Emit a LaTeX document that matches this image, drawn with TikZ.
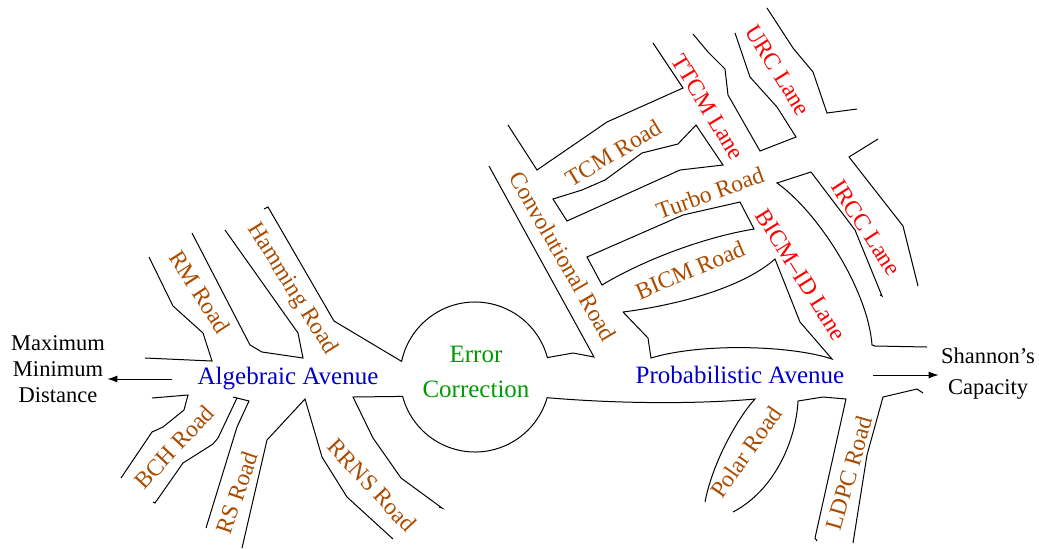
\documentclass[tikz,border=0pt]{standalone}
\usepackage{fontspec}
\setmainfont{Liberation Serif}
\usetikzlibrary{arrows.meta}
\definecolor{roadbrown}{RGB}{170,75,0}
\definecolor{avenueblue}{RGB}{0,0,200}
\definecolor{hubgreen}{RGB}{0,155,0}

\begin{document}
\begin{tikzpicture}[x=0.5pt, y=-0.5pt, line width=0.5pt,
    road/.style={text=roadbrown, font=\fontsize{11.8}{14}\selectfont, inner sep=0pt},
    lane/.style={text=red, font=\fontsize{11.8}{14}\selectfont, inner sep=0pt},
    avenue/.style={text=avenueblue, font=\fontsize{12.5}{15}\selectfont, inner sep=1pt},
    goal/.style={align=center, inner sep=1pt},
    pointer/.style={-{Latex[length=5pt, width=3.5pt]}}]

    \useasboundingbox (0,0) rectangle (1039,548);

% algebraic avenue, upper side
    \draw (145,358) -- (212,361) -- (203,333) -- (173,306) -- (149,257);
    \draw (192,233) -- (250,345) -- (262,352) -- (303,358) -- (298,333) -- (225,230);
    \draw (264,209) -- (268,207) -- (334,321) -- (401.6,361.4)
        arc[start angle=168, end angle=15, radius=37.5pt]
        -- (573,353) -- (594,357) -- (489,166);

% algebraic avenue, lower side
    \draw (152,398) -- (188,395) -- (184,410) -- (163,427) -- (152,432) -- (121,478);
    \draw (153,502) -- (155,503) -- (183,463) -- (213,444) -- (218,438) -- (237,398);
    \draw (233,397) -- (249,401) -- (237,427) -- (206,528);
    \draw (242,548) -- (267,440) -- (305,399) -- (322,457) -- (347,497) -- (393,539);
    \draw (439,507) -- (442,508) -- (401,478) -- (373,438) -- (353,397) -- (402.6,396.4)
        arc[start angle=195, end angle=344, radius=37.5pt]
        .. controls (620,404) and (700,404) .. (755,399)
        .. controls (740,415) and (713,460) .. (705,502);

% probabilistic avenue, upper side
    \draw (508,125) -- (537,170) -- (607,122) -- (683,88) -- (653,43);
    \draw (553,199) -- (582,190) -- (605,180) -- (642,153) -- (678,144) -- (696,125)
        -- (723,165) -- (680,170) -- (567,221) -- cycle;
    \draw (587,257) -- (683,215) -- (740,202) -- (754,229)
        .. controls (700,238) and (640,262) .. (602,285) -- cycle;
    \draw (623,312) -- (648,338) -- (651,358)
        .. controls (700,343) and (790,345) .. (832,359)
        -- (800,322) -- (775,259)
        .. controls (740,290) and (670,306) .. (623,312);

% lanes going up
    \draw (693,34) -- (708,52) -- (725,69) -- (728,95) -- (760,151) -- (796,137)
        -- (777,107) -- (750,77) -- (735,33);
    \draw (767,8) -- (793,48) -- (813,72) -- (827,113) -- (857,109);

% lanes going down
    \draw (927,347) -- (875,346) -- (872,345)
        .. controls (868,290) and (818,212) .. (777,183)
        -- (811,172) -- (855,230) -- (882,296) -- (880,295);
    \draw (878,139) -- (849,157) -- (903,226) -- (918,286);

% probabilistic avenue, lower side
    \draw (733,512) .. controls (775,490) and (796,440) .. (798,401)
        -- (823,397) -- (846,399) -- (815,538) -- (817,541);
    \draw (853,543) -- (867,455) -- (883,397) -- (917,389) -- (923,393);

% road names
    \node[road, rotate=-57] (rm) at (200,292) {RM Road};
    \node[road, rotate=-58] (hamming) at (292,289) {Hamming Road};
    \node[road, rotate=47] (bch) at (174,447) {BCH Road};
    \node[road, rotate=71] (rs) at (237,493) {RS Road};
    \node[road, rotate=-47] (rrns) at (372,485) {RRNS Road};
    \node[road, rotate=-60] (conv) at (563,256) {Convolutional Road};
    \node[road, rotate=31] (tcm) at (613,153) {TCM Road};
    \node[road, rotate=20] (turbo) at (710,193) {Turbo Road};
    \node[road, rotate=23] (bicm) at (690,270) {BICM Road};
    \node[road, rotate=55] (polar) at (746,452) {Polar Road};
    \node[road, rotate=74] (ldpc) at (849,473) {LDPC Road};

% lane names
    \node[lane, rotate=-59] (ttcm) at (708,107) {TTCM Lane};
    \node[lane, rotate=-58] (urc) at (778,70) {URC Lane};
    \node[lane, rotate=-57] (ircc) at (866,228) {IRCC Lane};
    \node[lane, rotate=-58] (bicmid) at (801,275) {BICM--ID Lane};

% avenues and hub
    \node[avenue] (algebraic) at (288,379) {Algebraic Avenue};
    \node[avenue] (probabilistic) at (740,375) {Probabilistic Avenue};
    \node[align=center, text=hubgreen, font=\fontsize{12.5}{17.5}\selectfont]
        (hub) at (476,372) {Error\\Correction};

% destinations
    \node[goal, font=\fontsize{11.25}{13}\selectfont] (maxdist) at (58,369)
        {Maximum\\Minimum\\Distance};
    \node[goal, font=\fontsize{11.25}{15.5}\selectfont] (shannon) at (988,374)
        {Shannon’s\\Capacity};
    \coordinate (algebraic-end) at (172,379);
    \coordinate (probabilistic-end) at (873,375);
    \draw[pointer] (algebraic-end) -- (maxdist.east |- algebraic-end);
    \draw[pointer] (probabilistic-end) -- (shannon.west |- probabilistic-end);
\end{tikzpicture}
\end{document}
